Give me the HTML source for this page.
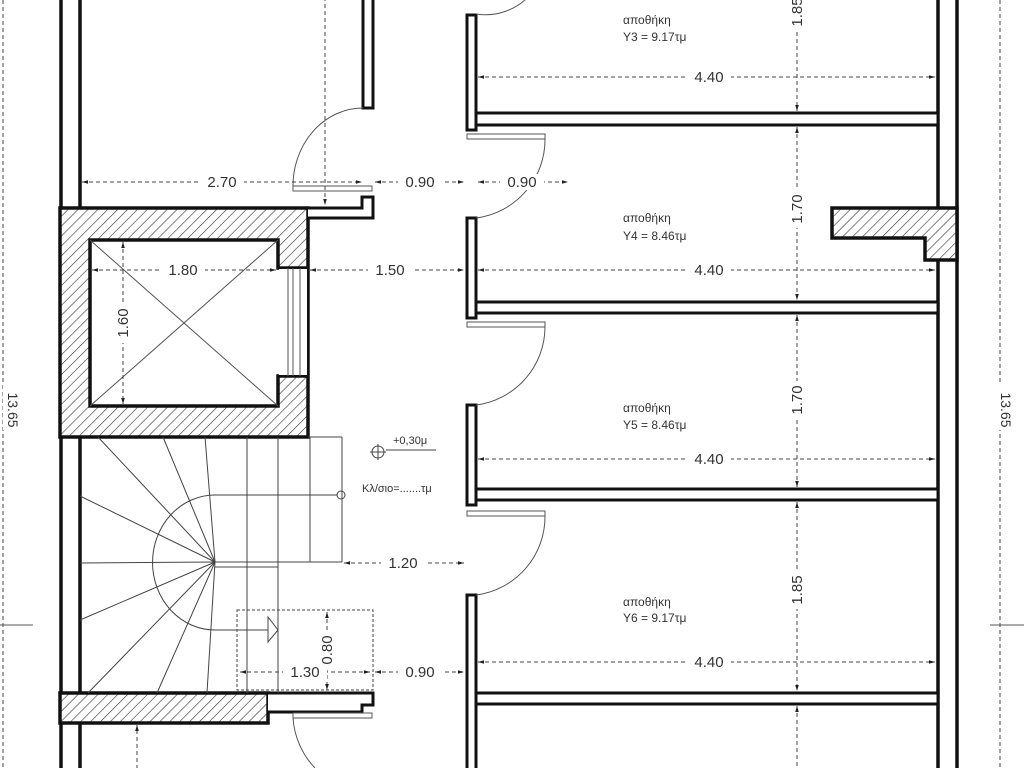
<!DOCTYPE html>
<html><head><meta charset="utf-8"><style>
html,body{margin:0;padding:0;background:#fff;}
svg{display:block}
text{font-family:"Liberation Sans","DejaVu Sans",sans-serif;fill:#333}
</style></head><body>
<svg width="1024" height="768" viewBox="0 0 1024 768" xmlns="http://www.w3.org/2000/svg">
<defs>
<pattern id="h" width="7" height="7" patternUnits="userSpaceOnUse" patternTransform="rotate(45)">
<rect width="7" height="7" fill="#fff"/><line x1="0" y1="0" x2="0" y2="7" stroke="#333" stroke-width="1.2"/>
</pattern>
<marker id="a" viewBox="0 0 10 10" refX="10" refY="5" markerWidth="9" markerHeight="6" orient="auto-start-reverse"><path d="M0,2 L10,5 L0,8z" fill="#222"/></marker>
</defs>
<g fill="none" stroke="#444" stroke-width="1" stroke-dasharray="4,3">
<line x1="3" y1="0" x2="3" y2="768"/>
<line x1="1000" y1="0" x2="1000" y2="768"/>
</g>
<line x1="0" y1="625" x2="33" y2="625" stroke="#555"/>
<line x1="990" y1="625" x2="1024" y2="625" stroke="#555"/>
<rect x="3" y="385" width="16" height="45" fill="#fff"/>
<text x="8" y="410" font-size="14" text-anchor="middle" transform="rotate(90 8 410)">13.65</text>
<rect x="992" y="385" width="18" height="45" fill="#fff"/>
<text x="1000" y="410" font-size="14" text-anchor="middle" transform="rotate(90 1000 410)" dy="-1">13.65</text>

<g stroke="#111" stroke-width="3.5" fill="#fff">
<line x1="61" y1="0" x2="61" y2="768"/>
<line x1="80" y1="0" x2="80" y2="768"/>
<line x1="938" y1="0" x2="938" y2="768"/>
<line x1="957" y1="0" x2="957" y2="768"/>
</g>

<path d="M60,208 H308 V437 H60Z M90,240 V406 H278 V376 H308 V268 H278 V240Z" fill="url(#h)" fill-rule="evenodd" stroke="#111" stroke-width="3.5"/>
<rect x="279" y="269" width="28" height="106" fill="#fff"/>
<g stroke="#555" stroke-width="1"><line x1="288" y1="268" x2="288" y2="376"/><line x1="293" y1="268" x2="293" y2="376"/><line x1="300" y1="268" x2="300" y2="376"/><line x1="90" y1="240" x2="278" y2="406"/><line x1="278" y1="240" x2="90" y2="406"/></g>

<rect x="60" y="693" width="208" height="30" fill="url(#h)" stroke="#111" stroke-width="3.5"/>
<path d="M268,693 H373 V705 H362 V712 H268" fill="#fff" stroke="#111" stroke-width="3"/>
<rect x="293" y="713" width="79" height="5" fill="#fff" stroke="#555" stroke-width="1"/>
<path d="M293,718 A80,80 0 0 0 315,768" fill="none" stroke="#555"/>

<rect x="363" y="-5" width="10" height="113" fill="#fff" stroke="#111" stroke-width="3"/>
<path d="M308,208 H362 V197 H373 V218 H308" fill="#fff" stroke="#111" stroke-width="3"/>
<rect x="293" y="186" width="79" height="5" fill="#fff" stroke="#555"/>
<path d="M293,188 A70,78 0 0 1 363,108" fill="none" stroke="#555"/>

<path d="M832,208 H957 V260 H925 V238 H832Z" fill="url(#h)" stroke="#111" stroke-width="3.5"/>

<g fill="#fff" stroke="#111" stroke-width="3">
<rect x="476" y="113" width="462" height="12"/>
<rect x="476" y="302" width="462" height="11"/>
<rect x="476" y="489" width="462" height="11"/>
<rect x="476" y="693" width="462" height="11"/>
</g>
<g stroke="#111" stroke-width="3" fill="none">
<path d="M476,113 V15 H467 V130 H476 V125"/>
<path d="M476,302 V218 H467 V318 H476 V313"/>
<path d="M476,489 V405 H467 V505 H476 V500"/>
<path d="M476,693 V595 H467 V768"/>
<path d="M476,704 V768"/>
</g>
<g fill="#fff" stroke="#555" stroke-width="1">
<rect x="467" y="134" width="78" height="5"/>
<rect x="467" y="322" width="78" height="5"/>
<rect x="467" y="511" width="78" height="5"/>
<path d="M545,139 A79,79 0 0 1 476,218" fill="none"/>
<path d="M545,327 A79,79 0 0 1 476,405" fill="none"/>
<path d="M545,516 A79,79 0 0 1 476,595" fill="none"/>
<path d="M530,-5 A60,60 0 0 1 476,14" fill="none"/>
</g>

<g stroke="#444" stroke-width="1" fill="none">
<line x1="215" y1="562" x2="98" y2="437"/><line x1="215" y1="562" x2="163" y2="437"/><line x1="215" y1="562" x2="205" y2="437"/>
<line x1="215" y1="562" x2="80" y2="496"/><line x1="215" y1="562" x2="80" y2="563"/><line x1="215" y1="562" x2="80" y2="620"/>
<line x1="215" y1="562" x2="88" y2="693"/><line x1="215" y1="562" x2="157" y2="693"/><line x1="215" y1="562" x2="207" y2="693"/>
<path d="M215,495 A62,67 0 0 0 215,630"/>
<line x1="215" y1="495" x2="337" y2="495"/><circle cx="341" cy="495" r="4"/>
<line x1="215" y1="630" x2="268" y2="630"/><path d="M268,617 L278,630 L268,642Z"/>
<line x1="247" y1="437" x2="247" y2="693"/><line x1="278" y1="437" x2="278" y2="693"/>
<line x1="310" y1="437" x2="310" y2="562"/><line x1="342" y1="437" x2="342" y2="562"/>
<line x1="308" y1="437" x2="342" y2="437"/>
<line x1="215" y1="562" x2="342" y2="562"/><line x1="215" y1="567" x2="278" y2="567"/>
</g>
<rect x="237" y="610" width="136" height="80" fill="none" stroke="#444" stroke-dasharray="3,2"/>

<g stroke="#444" stroke-width="1" stroke-dasharray="4,3" fill="none" marker-start="url(#a)" marker-end="url(#a)">
<line x1="82" y1="182" x2="362" y2="182"/>
<line x1="375" y1="182" x2="464" y2="182"/>
<line x1="478" y1="182" x2="568" y2="182"/>
<line x1="92" y1="270" x2="276" y2="270"/>
<line x1="310" y1="270" x2="464" y2="270"/>
<line x1="123" y1="242" x2="123" y2="404"/>
<line x1="344" y1="563" x2="464" y2="563"/>
<line x1="240" y1="672" x2="370" y2="672"/>
<line x1="375" y1="672" x2="464" y2="672"/>
<line x1="327" y1="612" x2="327" y2="690"/>
<line x1="478" y1="77" x2="935" y2="77"/>
<line x1="478" y1="270" x2="935" y2="270"/>
<line x1="478" y1="459" x2="935" y2="459"/>
<line x1="478" y1="662" x2="935" y2="662"/>
<line x1="797" y1="-10" x2="797" y2="111"/>
<line x1="797" y1="127" x2="797" y2="300"/>
<line x1="797" y1="315" x2="797" y2="487"/>
<line x1="797" y1="502" x2="797" y2="691"/>
<line x1="797" y1="706" x2="797" y2="790"/>
<line x1="325" y1="-10" x2="325" y2="205"/>
<line x1="137" y1="790" x2="137" y2="725"/>
</g>
<g font-size="15" text-anchor="middle">
<g fill="#fff" stroke="none">
<rect x="200" y="174" width="44" height="16"/><rect x="398" y="174" width="44" height="16"/><rect x="500" y="174" width="44" height="16"/>
<rect x="161" y="262" width="44" height="16"/><rect x="368" y="262" width="44" height="16"/>
<rect x="381" y="555" width="44" height="16"/><rect x="283" y="664" width="44" height="16"/><rect x="398" y="664" width="44" height="16"/>
<rect x="687" y="69" width="44" height="16"/><rect x="687" y="262" width="44" height="16"/><rect x="687" y="451" width="44" height="16"/><rect x="687" y="654" width="44" height="16"/>
</g>
<text x="222" y="187">2.70</text><text x="420" y="187">0.90</text><text x="522" y="187">0.90</text>
<text x="183" y="275">1.80</text><text x="390" y="275">1.50</text>
<text x="403" y="568">1.20</text><text x="305" y="677">1.30</text><text x="420" y="677">0.90</text>
<text x="709" y="82">4.40</text><text x="709" y="275">4.40</text><text x="709" y="464">4.40</text><text x="709" y="667">4.40</text>
<g fill="#fff"><rect x="115" y="303" width="16" height="40"/><rect x="319" y="630" width="16" height="40"/>
<rect x="789" y="0" width="16" height="32"/><rect x="789" y="190" width="16" height="38"/><rect x="789" y="381" width="16" height="38"/><rect x="789" y="571" width="16" height="38"/></g>
<text transform="translate(128 323) rotate(-90)">1.60</text>
<text transform="translate(332 650) rotate(-90)">0.80</text>
<text transform="translate(802 12) rotate(-90)">1.85</text>
<text transform="translate(802 209) rotate(-90)">1.70</text>
<text transform="translate(802 400) rotate(-90)">1.70</text>
<text transform="translate(802 590) rotate(-90)">1.85</text>
</g>
<g font-size="12">
<text x="623" y="24">αποθήκη</text><text x="623" y="41">Y3 = 9.17τμ</text>
<text x="623" y="222">αποθήκη</text><text x="623" y="240">Y4 = 8.46τμ</text>
<text x="623" y="412">αποθήκη</text><text x="623" y="429">Y5 = 8.46τμ</text>
<text x="623" y="606">αποθήκη</text><text x="623" y="622">Y6 = 9.17τμ</text>
<text x="393" y="444" font-size="11">+0,30μ</text>
<text x="362" y="492" font-size="11">Κλ/σιο=.......τμ</text>
</g>
<g stroke="#444" fill="none"><circle cx="378" cy="452" r="6"/><line x1="370" y1="452" x2="386" y2="452"/><line x1="378" y1="444" x2="378" y2="460"/><line x1="386" y1="450" x2="436" y2="450"/></g>
</svg>
</body></html>
